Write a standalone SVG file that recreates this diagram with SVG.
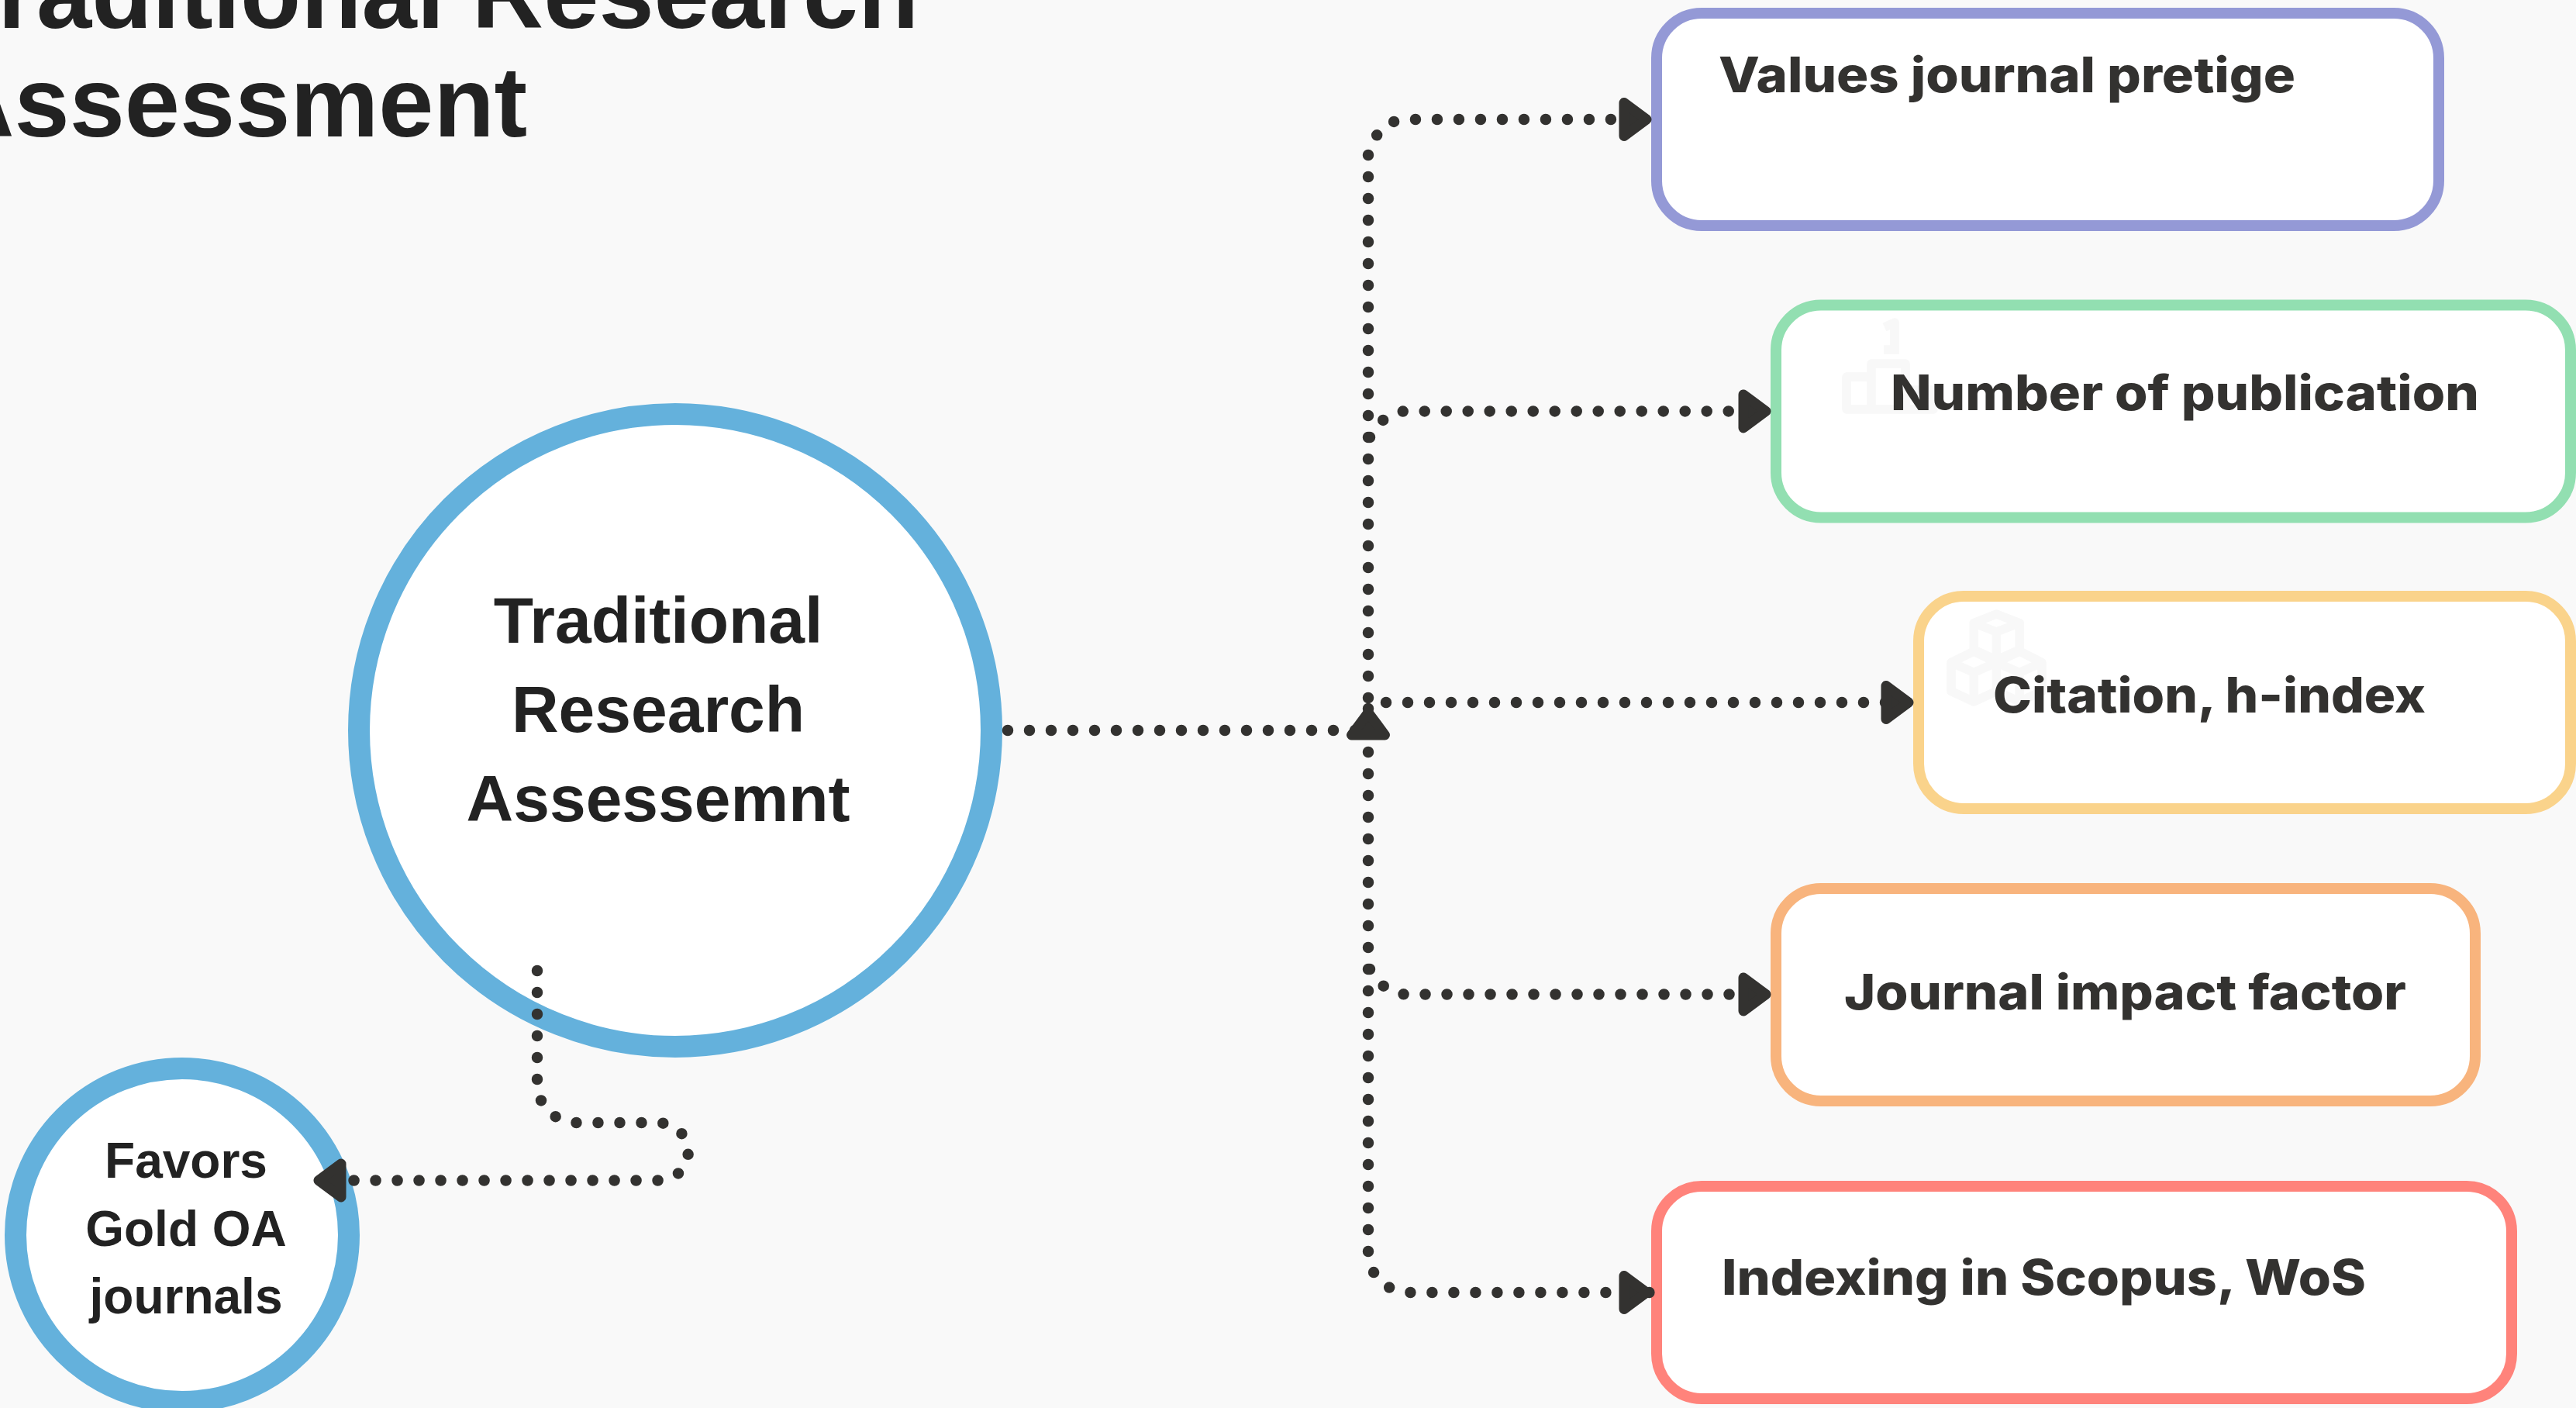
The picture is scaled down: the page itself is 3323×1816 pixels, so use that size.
<svg xmlns="http://www.w3.org/2000/svg" width="3323" height="1816" viewBox="0 0 3323 1816">
<style>
.ring{fill:#fff;stroke:#64b1dc;stroke-width:28}
.box{fill:#fff;stroke-width:14}
.sans{font-family:"Liberation Sans",Arial,sans-serif;font-weight:700;fill:#222;text-anchor:middle}
.lbl{font-family:Inter,"Noto Sans",sans-serif;font-weight:800;font-size:63px;fill:#333230}
.ico{fill:none;stroke:#f8f8f8;stroke-width:11.5;stroke-linejoin:round}
.con{fill:none;stroke:#333230;stroke-width:14.5;stroke-linecap:round;stroke-dasharray:0 28;marker-end:url(#arr)}
.dot{fill:none;stroke:#333230;stroke-width:14.5;stroke-linecap:round}
</style>
<defs>
<marker id="arr" markerUnits="userSpaceOnUse" viewBox="0 0 43 57" markerWidth="43" markerHeight="57" refX="42" refY="28.5" orient="auto">
<path d="M7,7V50L36,28.5Z" fill="#333230" stroke="#333230" stroke-width="13" stroke-linejoin="round"/>
</marker>
</defs>
<rect width="3323" height="1816" fill="#f9f9f9"/>
<g id="title"><text x="-74" y="36" font-size="128" style="text-anchor:start" class="sans">Traditional Research</text><text x="-74" y="176" font-size="128" style="text-anchor:start" class="sans">Assessment</text></g>
<g id="node-main"><circle class="ring" cx="871" cy="942" r="408"/><text class="sans" font-size="84" x="849" y="829">Traditional</text><text class="sans" font-size="84" x="849" y="944">Research</text><text class="sans" font-size="84" x="849" y="1059">Assessemnt</text></g>
<g id="node-gold"><circle class="ring" cx="235" cy="1593" r="215"/><text class="sans" font-size="64" x="240" y="1519">Favors</text><text class="sans" font-size="64" x="240" y="1606.5">Gold OA</text><text class="sans" font-size="64" x="240" y="1694">journals</text></g>
<g id="node-prestige"><rect class="box" stroke="#9499d6" x="2137" y="17" width="1009" height="274" rx="58"/><text class="lbl" x="2217" y="119" textLength="744" lengthAdjust="spacingAndGlyphs">Values journal pretige</text></g>
<g id="node-publication"><rect class="box" stroke="#92dfb1" x="2291" y="393.5" width="1025" height="274" rx="58"/>
<path class="ico" d="M2382,486H2414V528H2382ZM2414,528V469H2458V528ZM2458,528H2494V503H2458M2382,528H2458M2431,422L2444,416V451M2430,451H2450"/>
<text class="lbl" x="2439" y="529" textLength="759" lengthAdjust="spacingAndGlyphs">Number of publication</text></g>
<g id="node-citation"><rect class="box" stroke="#fad38b" x="2475" y="769" width="841" height="274" rx="58"/>
<path class="ico" d="M2575.3,792L2605.2,803.5V838L2575.3,851.3L2546.2,838V803.5ZM2546.2,803.5L2575.3,815L2605.2,803.5M2575.3,815V851.3M2546.2,840L2575.3,854.4V891.5L2546.2,905L2517,891.5V854.4ZM2517,854.4L2546.2,867.4L2575.3,854.4M2546.2,867.4V905M2605.2,840L2633.9,854.4V891.5L2605.2,905L2575.3,891.5V854.4ZM2575.3,854.4L2605.2,867.4L2633.9,854.4M2605.2,867.4V905"/>
<text class="lbl" x="2571" y="918.5" textLength="558" lengthAdjust="spacingAndGlyphs">Citation, h-index</text></g>
<g id="node-jif"><rect class="box" stroke="#f8b47d" x="2291" y="1146" width="902" height="274" rx="58"/><text class="lbl" x="2379" y="1301.5" textLength="725" lengthAdjust="spacingAndGlyphs">Journal impact factor</text></g>
<g id="node-indexing"><rect class="box" stroke="#ff837b" x="2137" y="1530" width="1103" height="274" rx="58"/><text class="lbl" x="2221" y="1670" textLength="831" lengthAdjust="spacingAndGlyphs">Indexing in Scopus, WoS</text></g>
<g id="connectors">
<path class="dot" d="M1765,914h.01"/>
<path class="con" d="M1300,942H1765V913"/>
<path class="con" d="M1765,900V200L1776,174.5L1798,157L1825,154H2130"/>
<path class="con" d="M1767,564L1784,542L1810,530.4H2284"/>
<path class="con" d="M1788,906H2468"/>
<path class="con" d="M1765,970V1614L1772,1641L1792,1660.5L1819,1667H2130"/>
<path class="con" d="M1767,1250L1785,1272L1811,1282.5H2284"/>
<path class="con" d="M693,1252V1392L697.6,1419L716,1440L742,1448H854L879,1461L888,1488L876,1513L850,1522.5H405"/>
</g>
</svg>
